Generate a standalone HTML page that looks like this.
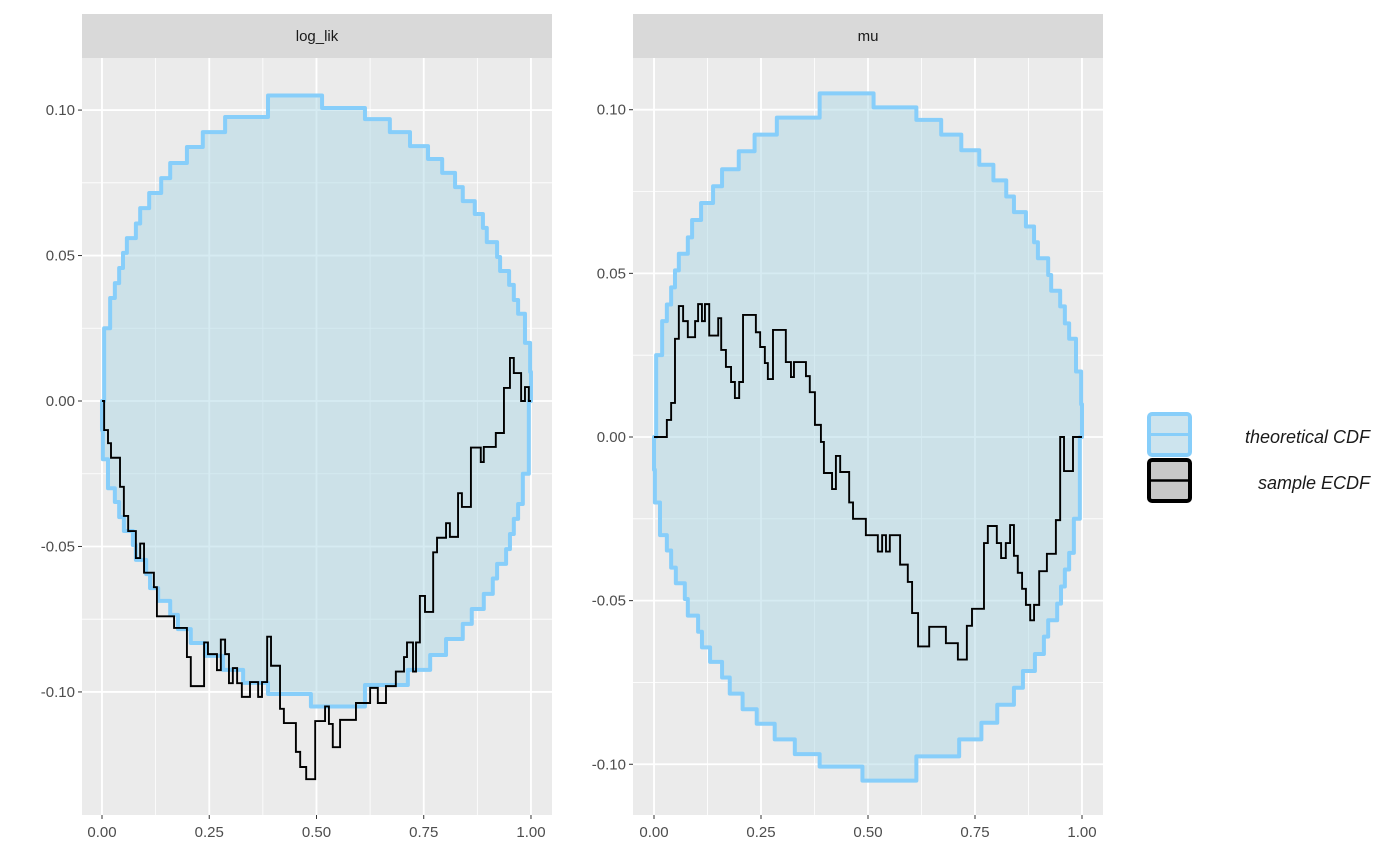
<!DOCTYPE html>
<html><head><meta charset="utf-8"><style>
body{margin:0;background:#fff;}
svg{display:block;font-family:"Liberation Sans",sans-serif;}
</style></head><body>
<svg id="chart" width="1400" height="865" viewBox="0 0 1400 865" xmlns="http://www.w3.org/2000/svg">
<g id="legend">
  <g>
    <rect x="1149" y="414" width="41" height="41" rx="3" fill="#cde4ee" stroke="#87cefa" stroke-width="4"/>
    <line x1="1149" y1="434.5" x2="1190" y2="434.5" stroke="#87cefa" stroke-width="3"/>
    <text x="1370" y="443" text-anchor="end" font-size="18" font-style="italic" fill="#1a1a1a">theoretical CDF</text>
  </g>
  <g>
    <rect x="1149" y="460" width="41" height="41" rx="3" fill="#c8c8c8" stroke="#000" stroke-width="4"/>
    <line x1="1149" y1="480.5" x2="1190" y2="480.5" stroke="#000" stroke-width="2.5"/>
    <text x="1370" y="489" text-anchor="end" font-size="18" font-style="italic" fill="#1a1a1a">sample ECDF</text>
  </g>
</g>
</svg>
<script>
// Shared theoretical band (step function: value applies from x[i] to x[i+1])
const bandUpperX = [0, 0.005, 0.019, 0.030, 0.040, 0.049, 0.058, 0.079, 0.089, 0.110, 0.138, 0.159, 0.198, 0.235, 0.287, 0.387, 0.513, 0.613, 0.671, 0.718, 0.760, 0.793, 0.823, 0.841, 0.869, 0.888, 0.897, 0.921, 0.928, 0.949, 0.960, 0.970, 0.986, 0.998];
const bandUpperY = [0, 0.025, 0.0354, 0.0405, 0.0457, 0.0509, 0.056, 0.061, 0.0663, 0.0715, 0.0766, 0.0818, 0.0873, 0.0924, 0.0976, 0.105, 0.1007, 0.0969, 0.0924, 0.0876, 0.0832, 0.0784, 0.0735, 0.0687, 0.0643, 0.0595, 0.0546, 0.0495, 0.0447, 0.0399, 0.0347, 0.030, 0.020, 0.010];
const bandLowerX = [0, 0.002, 0.014, 0.030, 0.040, 0.051, 0.072, 0.079, 0.103, 0.112, 0.131, 0.159, 0.177, 0.207, 0.240, 0.282, 0.329, 0.387, 0.487, 0.613, 0.713, 0.765, 0.802, 0.841, 0.862, 0.890, 0.911, 0.921, 0.942, 0.951, 0.960, 0.970, 0.981, 0.995];
const bandLowerY = [-0.010, -0.020, -0.030, -0.0347, -0.0399, -0.0447, -0.0495, -0.0546, -0.0595, -0.0643, -0.0687, -0.0735, -0.0784, -0.0832, -0.0876, -0.0924, -0.0969, -0.1007, -0.105, -0.0976, -0.0924, -0.0873, -0.0818, -0.0766, -0.0715, -0.0663, -0.061, -0.056, -0.0509, -0.0457, -0.0405, -0.0354, -0.025, 0];
// log_lik ECDF difference (step starts)
const logLikX = [0, 0.005, 0.014, 0.021, 0.042, 0.051, 0.061, 0.079, 0.089, 0.098, 0.121, 0.128, 0.168, 0.198, 0.207, 0.238, 0.247, 0.268, 0.277, 0.287, 0.296, 0.305, 0.315, 0.326, 0.345, 0.364, 0.373, 0.385, 0.394, 0.415, 0.424, 0.452, 0.462, 0.476, 0.497, 0.520, 0.529, 0.538, 0.555, 0.592, 0.625, 0.643, 0.662, 0.685, 0.704, 0.711, 0.725, 0.732, 0.741, 0.753, 0.772, 0.781, 0.802, 0.811, 0.830, 0.839, 0.860, 0.883, 0.890, 0.918, 0.937, 0.951, 0.960, 0.977, 0.986, 0.995];
const logLikY = [0, -0.010, -0.0145, -0.0195, -0.0295, -0.0395, -0.0447, -0.054, -0.049, -0.059, -0.064, -0.074, -0.078, -0.088, -0.098, -0.083, -0.087, -0.0925, -0.082, -0.087, -0.097, -0.0918, -0.097, -0.1017, -0.0966, -0.1017, -0.0966, -0.081, -0.091, -0.1058, -0.1107, -0.1206, -0.1258, -0.130, -0.110, -0.105, -0.111, -0.119, -0.1096, -0.1038, -0.0986, -0.1038, -0.098, -0.093, -0.088, -0.083, -0.093, -0.083, -0.067, -0.0725, -0.052, -0.047, -0.042, -0.0467, -0.0317, -0.0364, -0.016, -0.021, -0.0158, -0.011, 0.0045, 0.0148, 0.0096, 0, 0.0048, 0];
// mu ECDF difference (step starts)
const muX = [0, 0.030, 0.040, 0.049, 0.058, 0.068, 0.079, 0.096, 0.103, 0.112, 0.119, 0.129, 0.150, 0.157, 0.168, 0.180, 0.189, 0.199, 0.208, 0.238, 0.248, 0.259, 0.266, 0.278, 0.308, 0.320, 0.327, 0.355, 0.364, 0.376, 0.390, 0.397, 0.416, 0.425, 0.435, 0.456, 0.465, 0.495, 0.523, 0.533, 0.542, 0.551, 0.575, 0.593, 0.603, 0.617, 0.643, 0.682, 0.710, 0.731, 0.743, 0.771, 0.780, 0.801, 0.811, 0.822, 0.832, 0.841, 0.850, 0.860, 0.869, 0.879, 0.888, 0.900, 0.918, 0.939, 0.949, 0.958, 0.979];
const muY = [0, 0.0052, 0.0104, 0.030, 0.040, 0.0354, 0.0305, 0.0354, 0.0406, 0.0354, 0.0406, 0.031, 0.0363, 0.0266, 0.0214, 0.0168, 0.0119, 0.0168, 0.0373, 0.032, 0.0275, 0.0226, 0.0177, 0.0327, 0.0229, 0.0183, 0.0229, 0.0186, 0.0137, 0.0037, -0.0015, -0.011, -0.0159, -0.0058, -0.0107, -0.020, -0.025, -0.030, -0.035, -0.030, -0.035, -0.030, -0.039, -0.0443, -0.0538, -0.064, -0.058, -0.063, -0.068, -0.0577, -0.0525, -0.0324, -0.0272, -0.0324, -0.037, -0.0324, -0.0269, -0.0363, -0.0415, -0.0464, -0.0513, -0.056, -0.0513, -0.041, -0.0357, -0.0254, 0, -0.0104, 0];
const xTicks = [0, 0.25, 0.5, 0.75, 1];
const xTickLabels = ["0.00", "0.25", "0.50", "0.75", "1.00"];
const yTicks = [0.10, 0.05, 0, -0.05, -0.10];
const yTickLabels = ["0.10", "0.05", "0.00", "-0.05", "-0.10"];

const NS = "http://www.w3.org/2000/svg";
const svg = document.getElementById('chart');
function mk(tag, attrs, parent){const e=document.createElementNS(NS,tag);for(const k in attrs)e.setAttribute(k,attrs[k]);parent.appendChild(e);return e;}

function stepPath(xs, ys, xEnd, sx, sy){
  let d = `M${sx(xs[0])},${sy(ys[0])}`;
  for(let i=0;i<xs.length;i++){
    const xe = i+1<xs.length ? xs[i+1] : xEnd;
    d += ` L${sx(xs[i])},${sy(ys[i])} L${sx(xe)},${sy(ys[i])}`;
  }
  return d;
}

function panel(name, left, right, top, bottom, xmin, xmax, ymin, ymax, label, ex, ey){
  const sx = v => left + (v - xmin)/(xmax - xmin)*(right-left);
  const sy = v => bottom - (v - ymin)/(ymax - ymin)*(bottom-top);
  const g = mk('g', {}, svg);
  
  
  const strip = mk('rect', {x:left, y:14, width:right-left, height:top-14, fill:'#d9d9d9'}, g);
  
  
  const st = mk('text', {x:(left+right)/2, y:41, 'text-anchor':'middle', 'font-size':15, fill:'#1a1a1a'}, g);
  st.textContent = label;
  
  
  const bg = mk('rect', {x:left, y:top, width:right-left, height:bottom-top, fill:'#ebebeb'}, g);
  
  
  const grid = mk('g', {}, g);
  
  
  for(let i=0;i<xTicks.length-1;i++){const m=(xTicks[i]+xTicks[i+1])/2; mk('line',{x1:sx(m),x2:sx(m),y1:top,y2:bottom,stroke:'#fff','stroke-width':0.8},grid);}
  for(let i=0;i<yTicks.length-1;i++){const m=(yTicks[i]+yTicks[i+1])/2; mk('line',{x1:left,x2:right,y1:sy(m),y2:sy(m),stroke:'#fff','stroke-width':0.8},grid);}
  xTicks.forEach(v=>mk('line',{x1:sx(v),x2:sx(v),y1:top,y2:bottom,stroke:'#fff','stroke-width':1.8},grid));
  yTicks.forEach(v=>mk('line',{x1:left,x2:right,y1:sy(v),y2:sy(v),stroke:'#fff','stroke-width':1.8},grid));
  // band polygon
  let d = stepPath(bandUpperX, bandUpperY, 1, sx, sy);
  let lo = stepPath(bandLowerX, bandLowerY, 1, sx, sy).replace(/^M/, '');
  const parts = lo.split(' L');
  d += ' L' + parts.reverse().join(' L') + ' Z';
  const band = mk('path', {d:d, fill:'#add8e6', 'fill-opacity':0.5, stroke:'#87cefa', 'stroke-width':4, 'stroke-linejoin':'round'}, g);
  
  
  const line = mk('path', {d:stepPath(ex, ey, 1, sx, sy), fill:'none', stroke:'#000', 'stroke-width':1.9}, g);
  
  
  // axes
  const xa = mk('g', {}, g);
  
  
  xTicks.forEach((v,i)=>{
    mk('line',{x1:sx(v),x2:sx(v),y1:bottom,y2:bottom+4,stroke:'#333','stroke-width':1},xa);
    const t = mk('text',{x:sx(v),y:bottom+22,'text-anchor':'middle','font-size':15,fill:'#4d4d4d'},xa);
    t.textContent = xTickLabels[i];
    
    
  });
  const ya = mk('g', {}, g);
  
  
  yTicks.forEach((v,i)=>{
    mk('line',{x1:left-4,x2:left,y1:sy(v),y2:sy(v),stroke:'#333','stroke-width':1},ya);
    const t = mk('text',{x:left-7,y:sy(v)+5,'text-anchor':'end','font-size':15,fill:'#4d4d4d'},ya);
    t.textContent = yTickLabels[i];
    
    
  });
}
panel('log-lik', 82, 552, 58, 815, -0.0466, 1.049, -0.1423, 0.1179, 'log_lik', logLikX, logLikY);
panel('mu', 633, 1103, 58, 815, -0.0491, 1.0491, -0.1155, 0.1158, 'mu', muX, muY);
svg.appendChild(document.getElementById('legend'));
</script>
</body></html>
